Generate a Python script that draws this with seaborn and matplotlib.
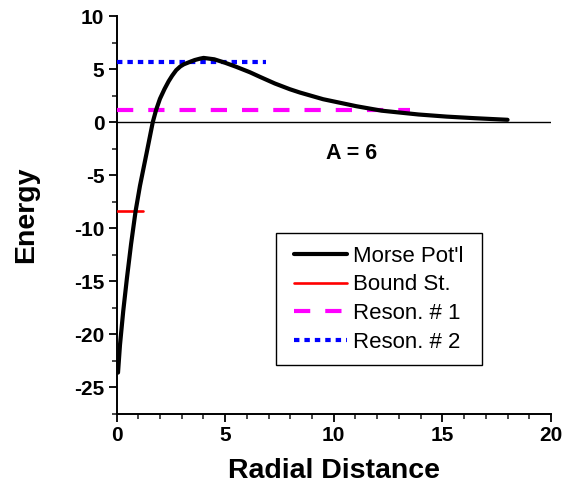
import numpy as np
import pandas as pd
import matplotlib
matplotlib.use("Agg")
import matplotlib.pyplot as plt
from matplotlib.ticker import MultipleLocator
from matplotlib.offsetbox import DrawingArea
import seaborn as sns

# ---- data ----
r_vals = [0.07, 0.16, 0.31, 0.48, 0.67, 0.88, 1.08, 1.39, 1.67, 1.82, 2.0, 2.21, 2.4,
          2.56, 2.75, 2.94, 3.1, 3.37, 3.6, 3.84, 4.01, 4.5, 4.99, 5.5, 6.14, 6.62,
          7.29, 7.98, 8.44, 9.51, 11.04, 12.2, 13.9, 15.2, 16.5, 18.0]
v_vals = [-23.6, -21.0, -17.8, -14.7, -11.5, -8.37, -6.0, -2.87, 0.0, 1.13, 2.2, 3.12, 3.85,
          4.37, 4.9, 5.25, 5.45, 5.67, 5.85, 5.98, 6.05, 5.92, 5.6, 5.22, 4.7, 4.25,
          3.64, 3.1, 2.79, 2.16, 1.50, 1.08, 0.72, 0.52, 0.37, 0.22]

bound_x = [0.0, 1.24]
bound_e = -8.37
reson1_x = [0.0, 13.5]
reson1_e = 1.13
reson2_x = [0.0, 6.9]
reson2_e = 5.67
zero_x = [0.0, 20.0]

labels = ["Morse Pot'l", "Bound St.", "Reson. # 1", "Reson. # 2"]
x_ticks = [0, 5, 10, 15, 20]
y_ticks = [-25, -20, -15, -10, -5, 0, 5, 10]

sns.set_style("ticks")
plt.rcParams['font.family'] = ['Liberation Sans', 'DejaVu Sans']
plt.rcParams['axes.unicode_minus'] = False
plt.rcParams['text.color'] = 'black'
plt.rcParams['axes.labelcolor'] = 'black'

fig = plt.figure(figsize=(5.65, 4.88), dpi=100)
ax = fig.add_axes([116.5/565, 74/488, (551-116.5)/565, (414-16)/488])

df = pd.DataFrame({"r": r_vals, "V": v_vals})
sns.lineplot(data=df, x="r", y="V", ax=ax, color="black", lw=3.0,
             label=labels[0], sort=False, zorder=5)

ax.plot(zero_x, [0, 0], color="black", lw=1.0, zorder=1)

sns.lineplot(x=bound_x, y=[bound_e]*2, ax=ax, color="#ff0000", lw=1.9,
             label=labels[1], zorder=4)
sns.lineplot(x=reson1_x, y=[reson1_e]*2, ax=ax, color="#ff00ff", lw=3.0,
             label=labels[2], zorder=3)
sns.lineplot(x=reson2_x, y=[reson2_e]*2, ax=ax, color="#0000ff", lw=3.0,
             label=labels[3], zorder=3)
lines = ax.get_lines()
lines[3].set_dashes((3.9, 3.6))
lines[4].set_dashes((1.3, 1.2))

ax.set_xlim(0, 20)
ax.set_ylim(-27.5, 10)
ax.set_xticks(x_ticks)
ax.set_yticks(y_ticks)
ax.xaxis.set_minor_locator(MultipleLocator(1))
ax.yaxis.set_minor_locator(MultipleLocator(2.5))
ax.tick_params(which="major", direction="out", length=5.8, width=1.3,
               labelsize=15, pad=3, colors="black")
ax.tick_params(which="minor", direction="out", length=3.4, width=1.2)
for lab in ax.get_xticklabels() + ax.get_yticklabels():
    lab.set_fontweight("bold")

sns.despine(ax=ax)
for s in ["left", "bottom"]:
    ax.spines[s].set_linewidth(1.4)
    ax.spines[s].set_color("black")

ax.set_xlabel("Radial Distance", fontsize=20.5, fontweight="bold", labelpad=9)
ax.set_ylabel("Energy", fontsize=20.5, fontweight="bold", labelpad=25)

ax.text(10.8, -2.97, "A = 6", fontsize=15.5, fontweight="bold",
        ha="center", va="center")

leg = ax.legend(loc="upper left", bbox_to_anchor=(276/565, 1-233.3/488),
                bbox_transform=fig.transFigure, borderaxespad=0,
                fontsize=16, frameon=True, fancybox=False, framealpha=1,
                edgecolor="black", handlelength=2.35, handletextpad=0.28,
                labelspacing=0.35, borderpad=0.55)
leg.get_frame().set_linewidth(1.0)
leg.get_lines()[2].set_dashes((3.9, 3.6))
leg.get_lines()[3].set_dashes((1.3, 1.2))

# extra horizontal padding inside the legend box
try:
    for col in leg._legend_handle_box.get_children():
        for item in col.get_children():
            item._children.insert(0, DrawingArea(0, 0))
            item._children.append(DrawingArea(0, 0))
except Exception:
    pass

fig.savefig("out.png", dpi=100)
